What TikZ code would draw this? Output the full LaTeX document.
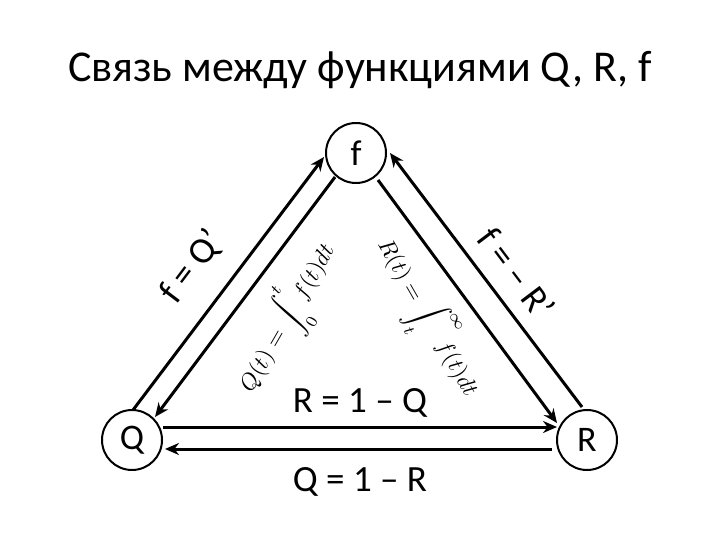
\documentclass[tikz,border=0pt]{standalone}
\usepackage{fontspec}
\setmainfont{Carlito}
\usetikzlibrary{arrows.meta}
\begin{document}
\begin{tikzpicture}[x=1pt,y=-1pt,
  circ/.style={draw,line width=2pt,circle,minimum size=60pt,inner sep=0pt,font=\fontsize{36}{38}\selectfont},
  conn/.style={line width=3pt,-{Stealth[length=14pt,width=12pt]}},
  lbl/.style={font=\fontsize{37}{39}\selectfont},
  intl/.style={inner sep=0pt}]
\useasboundingbox (0,0) rectangle (720,540);
\node[font=\fontsize{44}{46}\selectfont] (title) at (360,70) {Связь между функциями Q, R, f};
\node[circ] (f) at (356,153) {f};
\node[circ] (Q) at (132,440) {Q};
\node[circ] (R) at (587,440) {R};
\coordinate (a1) at (133,410); \coordinate (a2) at (324,157);
\coordinate (b1) at (335,177); \coordinate (b2) at (155,417);
\coordinate (c1) at (582,407); \coordinate (c2) at (390,153);
\coordinate (d1) at (378,180); \coordinate (d2) at (557,423);
\coordinate (e1) at (163,427); \coordinate (e2) at (557,427);
\coordinate (g1) at (552,449); \coordinate (g2) at (165,449);
\draw[conn] (a1) -- (a2);
\draw[conn] (b1) -- (b2);
\draw[conn] (c1) -- (c2);
\draw[conn] (d1) -- (d2);
\draw[conn] (e1) -- (e2);
\draw[conn] (g1) -- (g2);
\node[lbl,rotate=53] (l1) at (192,267) {f = Q’};
\node[lbl,rotate=-53] (l2) at (517,273) {f = – R’};
\node[lbl] (l3) at (360,403) {R = 1 – Q};
\node[lbl] (l4) at (360,482) {Q = 1 – R};
\node[intl,rotate=60] (i1) at (287,318) {\scalebox{2.3}{$\displaystyle Q(t)=\int_0^t\! f(t)dt$}};
\node[intl,rotate=-60] (i2) at (427,318) {\scalebox{2.3}{$\displaystyle R(t)=\int_t^\infty\! f(t)dt$}};
\end{tikzpicture}
\end{document}
